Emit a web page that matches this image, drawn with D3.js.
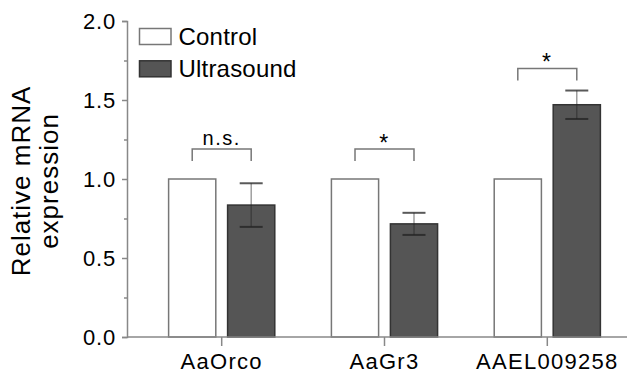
<!DOCTYPE html>
<html>
<head>
<meta charset="utf-8">
<script src="https://cdn.jsdelivr.net/npm/d3@7"></script>
<style>
  body { margin: 0; background: #fff; }
  text { font-family: "Liberation Sans", Arial, sans-serif; fill: #000; }
</style>
</head>
<body>
<div id="chart"></div>
<script>
(function() {

    // data
    var categories = ["AaOrco", "AaGr3", "AAEL009258"];
    var series = ["Control", "Ultrasound"];
    var controlMeans = [1.0, 1.0, 1.0];
    var ultrasoundMeans = [0.835, 0.716, 1.47];
    var ultrasoundErr = [0.138, 0.07, 0.09];
    var sigLabels = ["n.s.", "*", "*"];
    var bracketLevels = [1.19, 1.19, 1.70];
    var yTicks = [0, 0.5, 1.0, 1.5, 2.0];

    var width = 627, height = 373;
    var svg = d3.select("#chart")
        .append("svg")
        .attr("width", width)
        .attr("height", height);

    var y = d3.scaleLinear().domain([0, 2]).range([337, 21]);
    var x = d3.scaleBand().domain(categories).range([140.3, 628.7]);
    var x1 = d3.scaleBand().domain(series).range([0, x.bandwidth()])
        .paddingInner(0.2).paddingOuter(0.48);

    var fills = { Control: "#fff", Ultrasound: "#555" };
    var strokes = { Control: "#777", Ultrasound: "#333" };

    var rows = categories.map(function(c, i) {
        return {
            cat: c,
            bars: [
                { s: "Control", v: controlMeans[i], e: 0 },
                { s: "Ultrasound", v: ultrasoundMeans[i], e: ultrasoundErr[i] }
            ],
            sig: sigLabels[i],
            level: bracketLevels[i]
        };
    });

    // bars
    var group = svg.selectAll(".grp")
        .data(rows)
        .enter()
        .append("g")
        .attr("class", "grp")
        .attr("transform", function(d) { return "translate(" + x(d.cat) + ",0)"; });

    group.selectAll("rect")
        .data(function(d) { return d.bars; })
        .enter()
        .append("rect")
        .attr("x", function(d) { return x1(d.s); })
        .attr("y", function(d) { return y(d.v); })
        .attr("width", x1.bandwidth())
        .attr("height", function(d) { return y(0) - y(d.v); })
        .attr("fill", function(d) { return fills[d.s]; })
        .attr("stroke", function(d) { return strokes[d.s]; })
        .attr("stroke-width", 1.5);

    // error bars
    var err = group.selectAll(".err")
        .data(function(d) { return d.bars.filter(function(b) { return b.e > 0; }); })
        .enter()
        .append("g")
        .attr("class", "err")
        .attr("transform", function(d) { return "translate(" + (x1(d.s) + x1.bandwidth() / 2) + ",0)"; });
    err.append("line")
        .attr("y1", function(d) { return y(d.v + d.e); })
        .attr("y2", function(d) { return y(d.v - d.e); })
        .attr("stroke", "#222").attr("stroke-opacity", 0.5).attr("stroke-width", 1.3);
    err.selectAll(".cap")
        .data(function(d) { return [d.v + d.e, d.v - d.e]; })
        .enter()
        .append("line")
        .attr("x1", -11.5).attr("x2", 11.5)
        .attr("y1", function(d) { return y(d); })
        .attr("y2", function(d) { return y(d); })
        .attr("stroke", "#222").attr("stroke-opacity", 0.75).attr("stroke-width", 2);

    // significance brackets
    var br = group.append("g");
    br.append("path")
        .attr("d", function(d) {
            var a = x1("Control") + x1.bandwidth() / 2,
                b = x1("Ultrasound") + x1.bandwidth() / 2,
                top = y(d.level), leg = top + 12;
            return "M" + a + "," + leg + "V" + top + "H" + b + "V" + leg;
        })
        .attr("fill", "none")
        .attr("stroke", "#777")
        .attr("stroke-width", 1.5);
    br.append("text")
        .attr("x", x.bandwidth() / 2)
        .attr("y", function(d) { return d.sig === "*" ? y(d.level) + 2 : y(d.level) - 4; })
        .attr("text-anchor", "middle")
        .style("font-size", function(d) { return d.sig === "*" ? "23px" : "20px"; })
        .style("letter-spacing", "1.5px")
        .text(function(d) { return d.sig; });

    // y axis
    var yAxis = svg.append("g")
        .attr("transform", "translate(127,0)")
        .call(d3.axisLeft(y).tickValues(yTicks).tickSize(5).tickPadding(6)
            .tickFormat(d3.format(".1f")));
    yAxis.selectAll("text").style("font-size", "22px").style("letter-spacing", "0.8px")
        .attr("dy", "0.36em");
    svg.append("g")
        .attr("transform", "translate(127,0)")
        .call(d3.axisLeft(y).tickValues([0.25, 0.75, 1.25, 1.75]).tickSize(3).tickFormat(""))
        .select(".domain").remove();

    // x axis
    var xAxis = svg.append("g")
        .attr("transform", "translate(0,337)")
        .call(d3.axisBottom(x).tickSize(9).tickPadding(7).tickSizeOuter(0));
    xAxis.select(".domain").attr("d", "M127,0H627");
    xAxis.selectAll("text").style("font-size", "22px").style("letter-spacing", "1.3px");

    svg.selectAll(".domain, .tick line")
        .attr("stroke", "#888")
        .attr("stroke-width", 1.5);

    // axis title
    var title = svg.append("text")
        .attr("transform", "translate(30,181) rotate(-90)")
        .attr("text-anchor", "middle")
        .style("font-size", "26px")
        .style("letter-spacing", "1px");
    title.append("tspan").attr("x", 0).attr("y", 0).text("Relative mRNA");
    title.append("tspan").attr("x", 0).attr("y", 28).text("expression");

    // legend
    var legend = svg.selectAll(".legend")
        .data(series)
        .enter()
        .append("g")
        .attr("class", "legend")
        .attr("transform", function(d, i) { return "translate(139.5," + (28.5 + i * 32.3) + ")"; });
    legend.append("rect")
        .attr("width", 31.5)
        .attr("height", 16)
        .attr("fill", function(d) { return fills[d]; })
        .attr("stroke", function(d) { return strokes[d]; })
        .attr("stroke-width", 1.5);
    legend.append("text")
        .attr("x", 39)
        .attr("y", 16)
        .style("font-size", "24px")
        .style("letter-spacing", "0.2px")
        .text(function(d) { return d; });

})();
</script>
</body>
</html>
